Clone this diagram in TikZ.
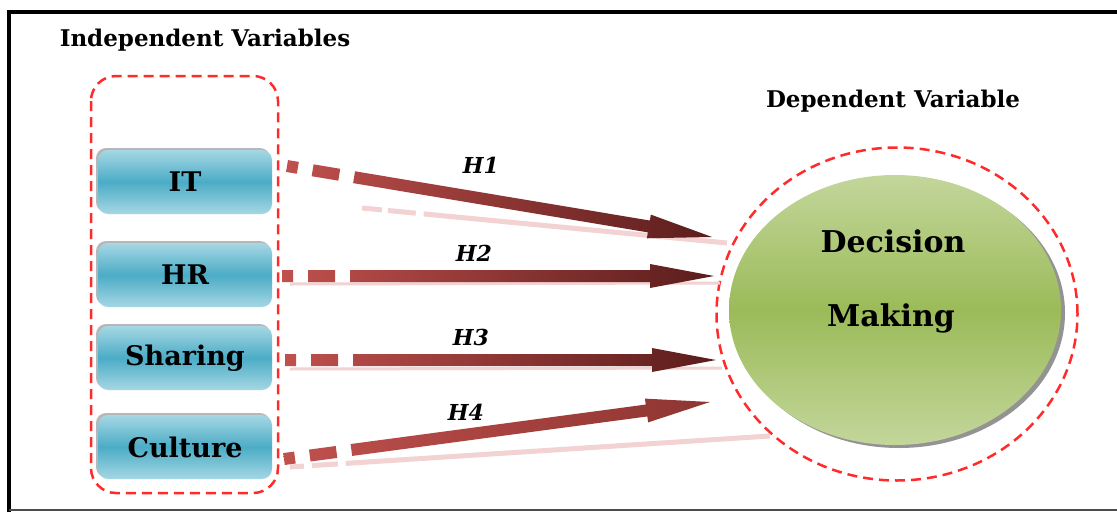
\documentclass[tikz,border=0pt]{standalone}
\usepackage{fontspec}
\setmainfont{DejaVu Serif}
\usetikzlibrary{shapes.geometric,calc,shadows}
\definecolor{dashred}{HTML}{FF2A2A}
\definecolor{boxtop}{HTML}{A6D7E4}
\definecolor{boxmid}{HTML}{4BACC6}
\definecolor{grtop}{HTML}{C3D69B}
\definecolor{grmid}{HTML}{9BBB59}
\definecolor{arrlight}{HTML}{C0504D}
\definecolor{arrdark}{HTML}{5A1D1C}
\definecolor{arrmed}{HTML}{8E3532}
\definecolor{refl}{HTML}{F2D2D2}
\newcommand{\hyparrow}[3]{%
  \path let \p1=(#1), \p2=(#2) in \pgfextra{%
    \pgfmathsetmacro\hyA{atan2(\y2-\y1,\x2-\x1)}%
    \pgfmathsetmacro\hyL{veclen(\x2-\x1,\y2-\y1)}%
    \global\let\HyA\hyA \global\let\HyL\hyL};
  \begin{scope}[shift={(#1)}, rotate=\HyA]
    \shade[left color=arrlight, right color=#3]
      (0,-6) rectangle (11,6)
      (26,-6) rectangle (53,6)
      (68,-6) -- ({\HyL-64},-6) -- ({\HyL-64},-12) -- (\HyL,0) -- ({\HyL-64},12) -- ({\HyL-64},6) -- (68,6) -- cycle;
  \end{scope}}
\begin{document}
\begin{tikzpicture}[x=1pt,y=-1pt,
  ivbox/.style={rectangle, rounded corners=10pt, minimum width=174pt, minimum height=64pt,
    inner sep=0pt, top color=boxtop, bottom color=boxtop, middle color=boxmid,
    drop shadow={shadow xshift=-2pt, shadow yshift=2pt, fill=gray!70, opacity=0.8},
    font=\fontsize{27}{30}\selectfont\bfseries},
  title/.style={font=\fontsize{23}{26}\selectfont\bfseries, inner sep=0pt},
  hlabel/.style={font=\fontsize{22}{24}\selectfont\bfseries\itshape, inner sep=0pt},
  reddash/.style={draw=dashred, line width=2.5pt, dash pattern=on 10pt off 6pt},
  reflline/.style={draw=refl, line cap=butt}
]
\useasboundingbox (0,0) rectangle (1117,512);
\fill[white] (0,0) rectangle (1117,512);
% frame
\draw[line width=4.5pt] (9,512) -- (9,12) -- (1117,12);
\draw[black!70, line width=2pt] (9,510) -- (1117,510);

% titles
\node[title] (tiv) at (205,40) {Independent Variables};
\node[title] (tdv) at (893,101) {Dependent Variable};

% left group
\draw[reddash, rounded corners=25pt] (91,76) rectangle (278,493);
\node[ivbox] (it) at (185,182) {IT};
\node[ivbox] (hr) at (185,275) {HR};
\node[ivbox] (sh) at (185,358) {Sharing};
\node[ivbox] (cu) at (185,447) {Culture};

% dependent variable
\node[reddash, ellipse, minimum width=361pt, minimum height=333pt, inner sep=0pt] (outer) at (897,314) {};
\node[ellipse, minimum width=332pt, minimum height=270pt, inner sep=0pt,
  top color=grtop, bottom color=grtop, middle color=grmid,
  drop shadow={shadow xshift=4pt, shadow yshift=-3pt, fill=gray!85, opacity=1}] (dm) at (895,310) {};
\node[font=\fontsize{30}{34}\selectfont\bfseries, inner sep=0pt] (dmt1) at (893,241) {Decision};
\node[font=\fontsize{30}{34}\selectfont\bfseries, inner sep=0pt] (dmt2) at (891,318) {Making};

% reflections
\draw[reflline, line width=5pt, dash pattern=on 20pt off 6pt on 28pt off 8pt on 500pt off 0pt] (362,208) -- (727,243);
\draw[reflline, line width=3pt] (290,284) -- (720,283);
\draw[reflline, line width=3pt] (290,369) -- (722,368);
\draw[reflline, line width=5pt, dash pattern=on 14pt off 8pt on 26pt off 8pt on 600pt off 0pt] (290,467) -- (770,436);

% arrows
\coordinate (s1) at (287,166); \coordinate (e1) at (712,237);
\coordinate (s2) at (282,276); \coordinate (e2) at (714,276);
\coordinate (s3) at (285,360); \coordinate (e3) at (716,360);
\coordinate (s4) at (284,459); \coordinate (e4) at (710,402);
\hyparrow{s1}{e1}{arrdark}
\hyparrow{s2}{e2}{arrdark}
\hyparrow{s3}{e3}{arrdark}
\hyparrow{s4}{e4}{arrmed}

% hypothesis labels
\node[hlabel] (h1) at (481,165) {H1};
\node[hlabel] (h2) at (474,253) {H2};
\node[hlabel] (h3) at (471,337) {H3};
\node[hlabel] (h4) at (466,412) {H4};
\end{tikzpicture}
\end{document}
